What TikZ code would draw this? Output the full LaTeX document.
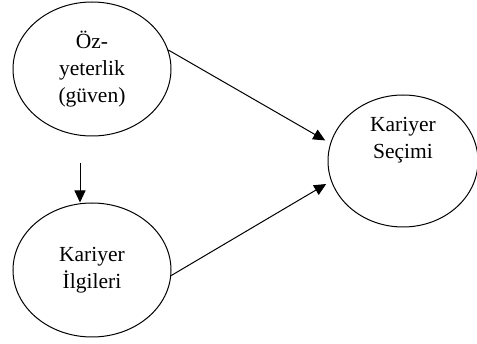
\documentclass[tikz,border=0pt]{standalone}
\usepackage{fontspec}
\setmainfont{Liberation Serif}
\usetikzlibrary{shapes.geometric, arrows.meta}

\begin{document}
\begin{tikzpicture}[x=1pt,y=-1pt,line width=1pt,
  factor/.style={ellipse,draw,inner sep=0pt,minimum width=158pt,minimum height=134pt,
    align=center,font=\fontsize{21.5}{27}\selectfont},
  link/.style={-{Triangle[length=12pt,width=11pt]}}]
  \useasboundingbox (0,0) rectangle (477,344);
  \node[factor]          (efficacy) at (92,69)   {Öz-\\yeterlik\\(güven)};
  \node[factor]          (interest) at (92,270)  {Kariyer\\İlgileri};
  \node[factor,minimum width=150pt,minimum height=132pt] (choice) at (403,161) {Kariyer\\Seçimi\\[20pt]};
  \coordinate (vstart) at (80,163);
\draw[link] (efficacy.14)  -- ([xshift=-6pt]choice.164);
\draw[link] (interest.-4)  -- ([xshift=-6pt]choice.-162);
\draw[link] (vstart)       -- (vstart |- interest.north);
\end{tikzpicture}
\end{document}
